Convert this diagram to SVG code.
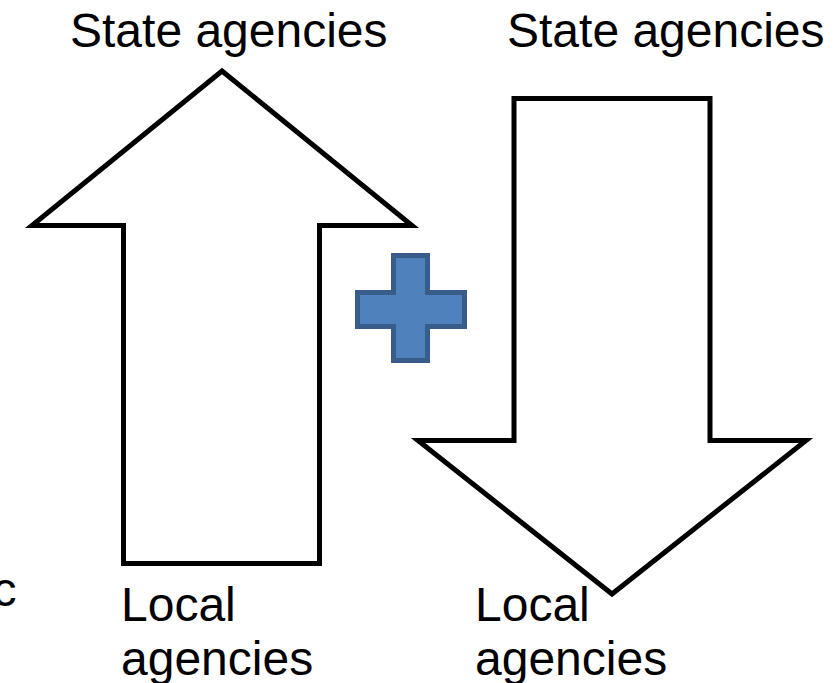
<svg xmlns="http://www.w3.org/2000/svg" width="839" height="683" viewBox="0 0 839 683">
<style>
.lbl{font-family:"Liberation Sans",Arial,sans-serif;font-size:48px;fill:#000}
.arrow{fill:#fff;stroke:#000;stroke-width:5;stroke-linejoin:miter;stroke-miterlimit:10}
.plus{fill:#4F81BD;stroke:#385D8A;stroke-width:5;stroke-linejoin:miter}
</style>
<rect width="839" height="683" fill="#fff"/>
<g id="edge-text">
<text class="lbl" x="-23" y="338">c</text>
<text class="lbl" x="-7.5" y="606">c</text>
</g>
<g id="up-arrow">
<path class="arrow" d="M222,71 L412,225.5 L319.5,225.5 L319.5,563.5 L123.5,563.5 L123.5,225.5 L32,225.5 Z"/>
</g>
<g id="down-arrow">
<path class="arrow" d="M514,98.5 L710,98.5 L710,440.5 L806,440.5 L612,594 L418,440.5 L514,440.5 Z"/>
</g>
<g id="plus">
<path class="plus" d="M393.5,255.5 L427.5,255.5 L427.5,292.5 L464.5,292.5 L464.5,326.5 L427.5,326.5 L427.5,360.5 L393.5,360.5 L393.5,326.5 L357.5,326.5 L357.5,292.5 L393.5,292.5 Z"/>
</g>
<g id="labels">
<text class="lbl" x="70" y="47">State agencies</text>
<text class="lbl" x="507" y="47">State agencies</text>
<text class="lbl" x="121" y="621">Local</text>
<text class="lbl" x="121" y="675">agencies</text>
<text class="lbl" x="475" y="621">Local</text>
<text class="lbl" x="475" y="675">agencies</text>
</g>
<g id="connectors"/>
</svg>
